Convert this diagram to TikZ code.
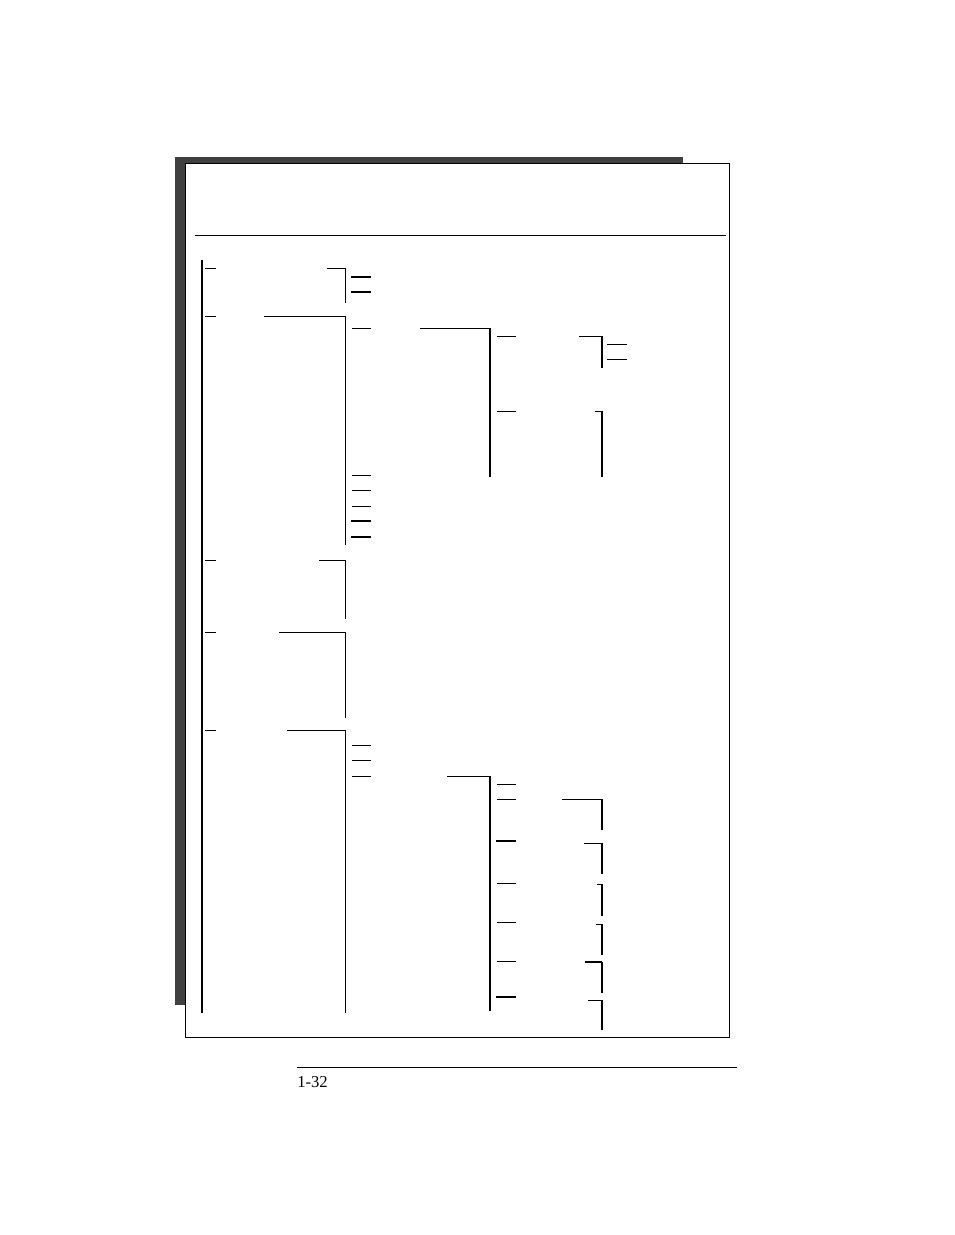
\documentclass[tikz,border=0pt]{standalone}
\usepackage{fontspec}
\setmainfont{Liberation Serif}
\usetikzlibrary{positioning}
\definecolor{ShadowGrey}{HTML}{404040}
\tikzset{
  thinline/.style={line width=0.75pt, line cap=rect},
  thickline/.style={line width=1.6pt, line cap=rect},
  bracket/.style={line width=0.75pt, line join=miter}
}

\begin{document}
\begin{tikzpicture}[x=0.75pt, y=-0.75pt]
  \useasboundingbox (0,0) rectangle (954,1235);

  % shadow and frame
  \fill[ShadowGrey] (175,157) rectangle (683,1005);
  \draw[fill=white, line width=0.75pt] (185,163) rectangle (729,1037);
  \draw[thinline] (195,235) -- (725,235);

  % main spine and first level
  \coordinate (Spine) at (202,260);
  \draw[line width=2.2pt] (Spine) -- (202,1013);
  \foreach \y in {268,316,560,632,730}{%
    \draw[thinline] (205,\y) -- (215,\y);
  }
  \foreach \xa/\y/\yb in {327/268/303, 264/316/545, 319/560/619,
                          279/632/718, 287/730/1013}{%
    \draw[bracket] (\xa,\y) -- (345,\y) -- (345,\yb);
  }

  % second level
  \foreach \y in {328,475,490,506,745,760,776}{%
    \draw[thinline] (352,\y) -- (370,\y);
  }
  \foreach \y in {277,292,521,537}{%
    \draw[thickline] (352,\y) -- (370,\y);
  }
  \foreach \xa/\y/\yb in {420/328/477, 447/776/1011}{%
    \draw[thinline] (\xa,\y) -- (489,\y);
    \draw[line width=1.6pt] (490,\y) -- (490,\yb);
  }

  % third level
  \foreach \y in {336,411,784,799,883,922,961}{%
    \draw[thinline] (497,\y) -- (515,\y);
  }
  \foreach \y in {841,997}{%
    \draw[thickline] (497,\y) -- (515,\y);
  }
  \foreach \xa/\y/\yb in {579/336/368, 595/411/477, 562/799/830,
                          584/843/874, 597/884/916, 596/924/955,
                          588/1000/1030}{%
    \draw[thinline] (\xa,\y) -- (601,\y);
    \draw[line width=1.6pt] (602,\y) -- (602,\yb);
  }
  \draw[thickline] (586,962) -- (601,962);
  \draw[line width=1.6pt] (602,962) -- (602,993);

  % fourth level
  \foreach \y in {344,359}{%
    \draw[thinline] (607,\y) -- (626,\y);
  }

  % footer
  \draw[thinline] (297,1067) -- (736,1067);
  \node[anchor=base west, inner sep=0pt, font=\fontsize{12.5}{14}\selectfont]
    (PageNo) at (297,1087) {1-32};
\end{tikzpicture}
\end{document}
